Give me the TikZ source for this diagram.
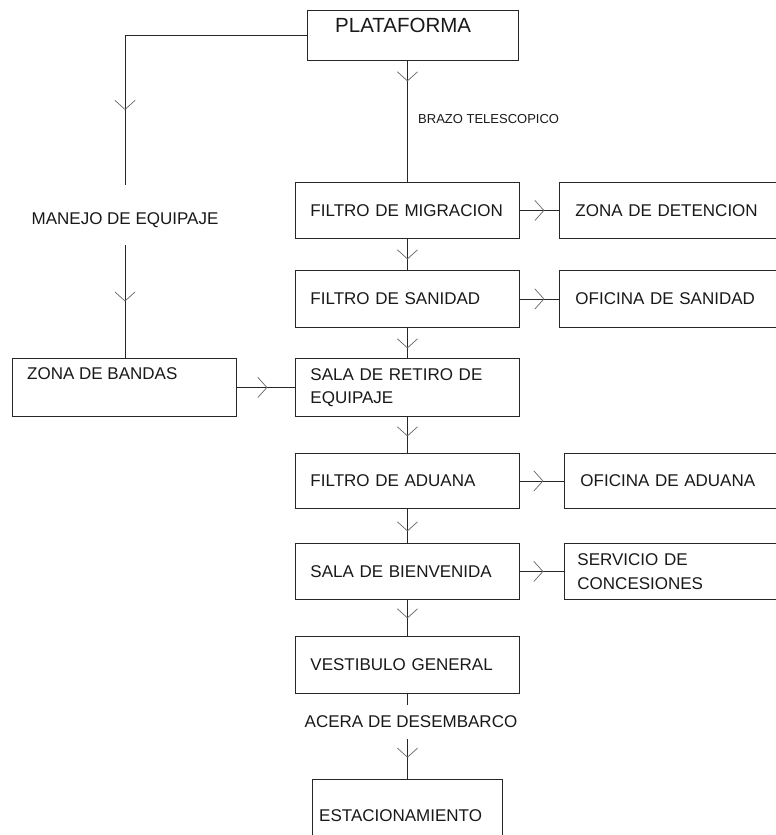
\documentclass[tikz,border=0pt]{standalone}
\usepackage{fontspec}
\setmainfont{Liberation Sans}
\usetikzlibrary{decorations.markings}
\tikzset{
  every node/.style={text=black!90},
  stepbox/.style={draw=black!85, line width=0.9pt, anchor=north west, inner xsep=15pt, inner ysep=0pt,
    align=left, font=\fontsize{17}{23.5}\selectfont},
  lbl/.style={inner sep=0pt, font=\fontsize{17}{23.5}\selectfont},
  link/.style={draw=black!85, line width=0.9pt},
  chev/.style={postaction={decorate}, decoration={markings, mark=at position #1 with
    {\draw[line width=0.7pt, black!60, line cap=round] (-9pt,10pt) -- (0pt,0pt) -- (-9pt,-10pt);}}},
}
\begin{document}
\begin{tikzpicture}[x=1pt, y=-1pt]
\useasboundingbox (0,0) rectangle (776,835);
\clip (0,0) rectangle (776,835);
\fill[white] (0,0) rectangle (776,835);

% top platform
\node[stepbox, minimum width=211pt, minimum height=50pt] (plat) at (307,10) {};
\node[lbl, anchor=west, font=\fontsize{20.5}{24}\selectfont] (platT) at (335,25) {PLATAFORMA};
\node[lbl, anchor=west, font=\fontsize{13}{15}\selectfont] (brazo) at (418,119) {BRAZO TELESCOPICO};

% main column
\node[stepbox, text width=194pt, minimum height=56pt] (mig) at (295,182) {FILTRO DE MIGRACION};
\node[stepbox, text width=194pt, minimum height=57pt] (san) at (295,270) {FILTRO DE SANIDAD};
\node[stepbox, text width=194pt, minimum height=58pt] (sala) at (295,358) {SALA DE RETIRO DE\\EQUIPAJE};
\node[stepbox, text width=194pt, minimum height=55pt] (adu) at (295,453) {FILTRO DE ADUANA};
\node[stepbox, text width=194pt, minimum height=56pt] (bien) at (295,543) {SALA DE BIENVENIDA};
\node[stepbox, text width=194pt, minimum height=57pt] (vest) at (295,636) {VESTIBULO GENERAL};
\node[lbl, minimum height=34pt] (acera) at (411,722) {ACERA DE DESEMBARCO};
\node[stepbox, minimum width=190pt, minimum height=70pt] (estac) at (312,779) {};
\node[lbl, anchor=west] (estacT) at (319,816) {ESTACIONAMIENTO};

% side offices
\node[stepbox, inner xsep=16pt, text width=200pt, minimum height=56pt] (det) at (559,182) {ZONA DE DETENCION};
\node[stepbox, inner xsep=16pt, text width=200pt, minimum height=57pt] (ofsan) at (559,270) {OFICINA DE SANIDAD};
\node[stepbox, inner xsep=16pt, text width=200pt, minimum height=55pt] (ofad) at (564,453) {OFICINA DE ADUANA};
\node[stepbox, inner xsep=13pt, text width=200pt, minimum height=56pt] (serv) at (564,543) {SERVICIO DE\\CONCESIONES};

% baggage branch
\node[lbl] (manejo) at (125,220) {MANEJO DE EQUIPAJE};
\node[stepbox, minimum width=224pt, minimum height=58pt] (bandas) at (12,358) {};
\node[lbl, anchor=west] (bandasT) at (27,374) {ZONA DE BANDAS};
\coordinate (mUp) at (125,185);
\coordinate (mDn) at (125,245);

% connectors
\path[link, chev=256pt] (plat.west) -| (mUp);
\path[link, chev=56pt] (mDn) -- (bandas.north -| mDn);

\path[link, chev=20pt] (mig.north |- plat.south) -- (mig.north);
\path[link, chev=20pt] (mig.south) -- (san.north);
\path[link, chev=20pt] (san.south) -- (sala.north);
\path[link, chev=19pt] (sala.south) -- (adu.north);
\path[link, chev=22pt] (adu.south) -- (bien.north);
\path[link, chev=18pt] (bien.south) -- (vest.north);
\path[link, chev=11.5pt] (vest.south) -- (vest.south |- acera.north);
\path[link, chev=18pt] (vest.south |- acera.south) -- (estac.north -| vest.south);

\path[link, chev=24pt] (mig.east) -- (det.west);
\path[link, chev=24pt] (san.east) -- (ofsan.west);
\path[link, chev=30pt] (bandas.east) -- (sala.west);
\path[link, chev=23pt] (adu.east) -- (ofad.west);
\path[link, chev=23pt] (bien.east) -- (serv.west);
\end{tikzpicture}
\end{document}
